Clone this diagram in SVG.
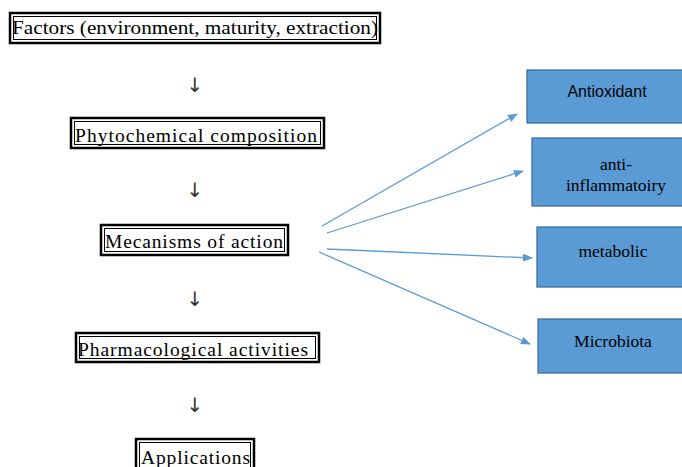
<svg xmlns="http://www.w3.org/2000/svg" width="682" height="467" viewBox="0 0 682 467">
<defs>
<style>
.ob{fill:#fff;stroke:#000;stroke-width:2.5}
.ib{fill:none;stroke:#000;stroke-width:1}
.t{font-family:"Liberation Serif","Times New Roman","DejaVu Serif",serif;font-size:19.5px;fill:#000}
.dn{font-family:"DejaVu Sans",sans-serif;font-size:20px;fill:#333;text-anchor:middle}
.bb{fill:#5B9BD5;stroke:#41719C;stroke-width:1.3}
.bs{font-family:"Liberation Sans",Arial,sans-serif;font-size:16px;fill:#000;text-anchor:middle}
.bt{font-family:"Liberation Serif","Times New Roman","DejaVu Serif",serif;font-size:17.5px;fill:#000;text-anchor:middle}
.cn{stroke:#5B9BD5;stroke-width:1.3;fill:none;marker-end:url(#ah)}
</style>
<marker id="ah" viewBox="0 0 10 10" refX="9" refY="5" markerWidth="10" markerHeight="8" markerUnits="userSpaceOnUse" orient="auto" preserveAspectRatio="none"><path d="M0,0 L10,5 L0,10 z" fill="#5B9BD5"/></marker>
</defs>
<rect width="682" height="467" fill="#fff"/>
<g id="factors">
<rect class="ob" x="10" y="13" width="370" height="30"/>
<rect class="ib" x="13.5" y="16.5" width="363" height="23"/>
<text class="t" x="12" y="34" textLength="366" lengthAdjust="spacingAndGlyphs">Factors (environment, maturity, extraction)</text>
</g>
<g id="phyto">
<rect class="ob" x="71" y="118" width="253" height="30"/>
<rect class="ib" x="74.5" y="121.5" width="246" height="23"/>
<text class="t" x="75" y="142" textLength="242" lengthAdjust="spacing">Phytochemical composition</text>
</g>
<g id="mech">
<rect class="ob" x="101" y="225" width="187" height="30"/>
<rect class="ib" x="104.5" y="228.5" width="180" height="23"/>
<text class="t" x="105" y="248" textLength="178" lengthAdjust="spacing">Mecanisms of action</text>
</g>
<g id="pharma">
<rect class="ob" x="76" y="333" width="243" height="29"/>
<rect class="ib" x="79.5" y="336.5" width="236" height="22"/>
<text class="t" x="78" y="356" textLength="230" lengthAdjust="spacing">Pharmacological activities</text>
</g>
<g id="apps">
<rect class="ob" x="136" y="439" width="118" height="40"/>
<rect class="ib" x="139.5" y="442.5" width="111" height="33"/>
<text class="t" x="141" y="464" textLength="109" lengthAdjust="spacing">Applications</text>
</g>
<g id="downs">
<text class="dn" x="195" y="92">↓</text>
<text class="dn" x="195" y="197">↓</text>
<text class="dn" x="195" y="306">↓</text>
<text class="dn" x="195" y="412">↓</text>
</g>
<g id="antiox">
<rect class="bb" x="527" y="70" width="170" height="53"/>
<text class="bs" x="607" y="97">Antioxidant</text>
</g>
<g id="antiinf">
<rect class="bb" x="532" y="138" width="165" height="68"/>
<text class="bt" x="616" y="170">anti-</text>
<text class="bt" x="616" y="191">inflammatoiry</text>
</g>
<g id="metab">
<rect class="bb" x="537" y="227" width="160" height="60"/>
<text class="bt" x="613" y="257">metabolic</text>
</g>
<g id="micro">
<rect class="bb" x="538" y="319" width="160" height="54"/>
<text class="bt" x="613" y="347">Microbiota</text>
</g>
<g id="connectors">
<line class="cn" x1="322" y1="226" x2="517" y2="114"/>
<line class="cn" x1="327" y1="233" x2="523" y2="171"/>
<line class="cn" x1="327" y1="249" x2="532" y2="258"/>
<line class="cn" x1="319" y1="252" x2="530" y2="344"/>
</g>
</svg>
